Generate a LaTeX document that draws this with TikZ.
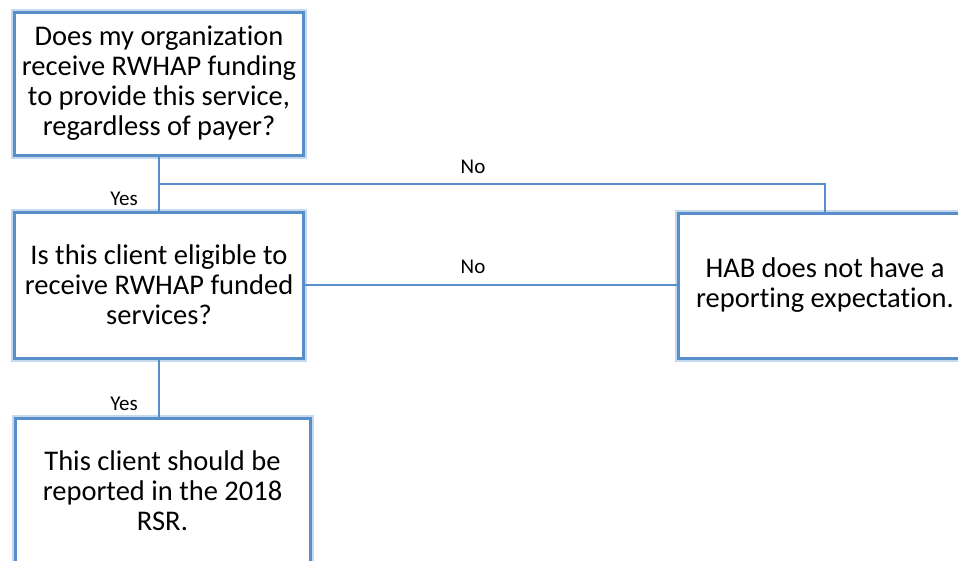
\documentclass[tikz,border=0pt]{standalone}
\usepackage{fontspec}
\setmainfont{Carlito}[Ligatures=NoCommon]
\usetikzlibrary{positioning,calc}
\definecolor{boxblue}{RGB}{88,142,202}
\definecolor{glowblue}{RGB}{196,217,240}
\tikzset{
	qbox/.style={draw=boxblue, line width=3pt, fill=white, align=center,
		inner sep=0pt, font=\fontsize{28.5}{30}\selectfont,
		preaction={draw=glowblue, line width=7pt}},
	link/.style={draw=boxblue, line width=2pt},
	lbl/.style={font=\fontsize{21}{24}\selectfont, inner sep=0pt}
}
\begin{document}
\begin{tikzpicture}[x=1pt,y=1pt]
	\useasboundingbox (0,0) rectangle (958,-560);
	\clip (0,0) rectangle (958,-560);
	\fill[white] (0,0) rectangle (958,-560);
	
	\node[qbox, minimum width=289pt, minimum height=143pt] (q1) at (159,-83.5)
		{Does my organization\\receive RWHAP funding\\to provide this service,\\regardless of payer?};
	\node[qbox, minimum width=289pt, minimum height=146pt] (q2) at (159,-285)
		{Is this client eligible to\\receive RWHAP funded\\services?};
	\node[qbox, minimum width=295pt, minimum height=146pt] (r3) at (162.5,-491)
		{This client should be\\reported in the 2018\\RSR.};
	\node[qbox, minimum width=293pt, minimum height=145pt] (r4) at (825,-285.5)
		{HAB does not have a\\reporting expectation.};
	
	\coordinate (split) at ($(q1.south)!0.5!(q2.north)$);
	\draw[link] (q1.south) -- (q2.north);
	\draw[link] (split) -| (r4.north);
	\draw[link] (q2.east) -- (q2.east -| r4.west);
	\draw[link] (q2.south) -- (q2.south |- r3.north);
	
	\node[lbl] (no1) at (473,-167) {No};
	\node[lbl] (yes1) at (124,-199) {Yes};
	\node[lbl] (no2) at (473,-267) {No};
	\node[lbl] (yes2) at (124,-404) {Yes};
\end{tikzpicture}
\end{document}
